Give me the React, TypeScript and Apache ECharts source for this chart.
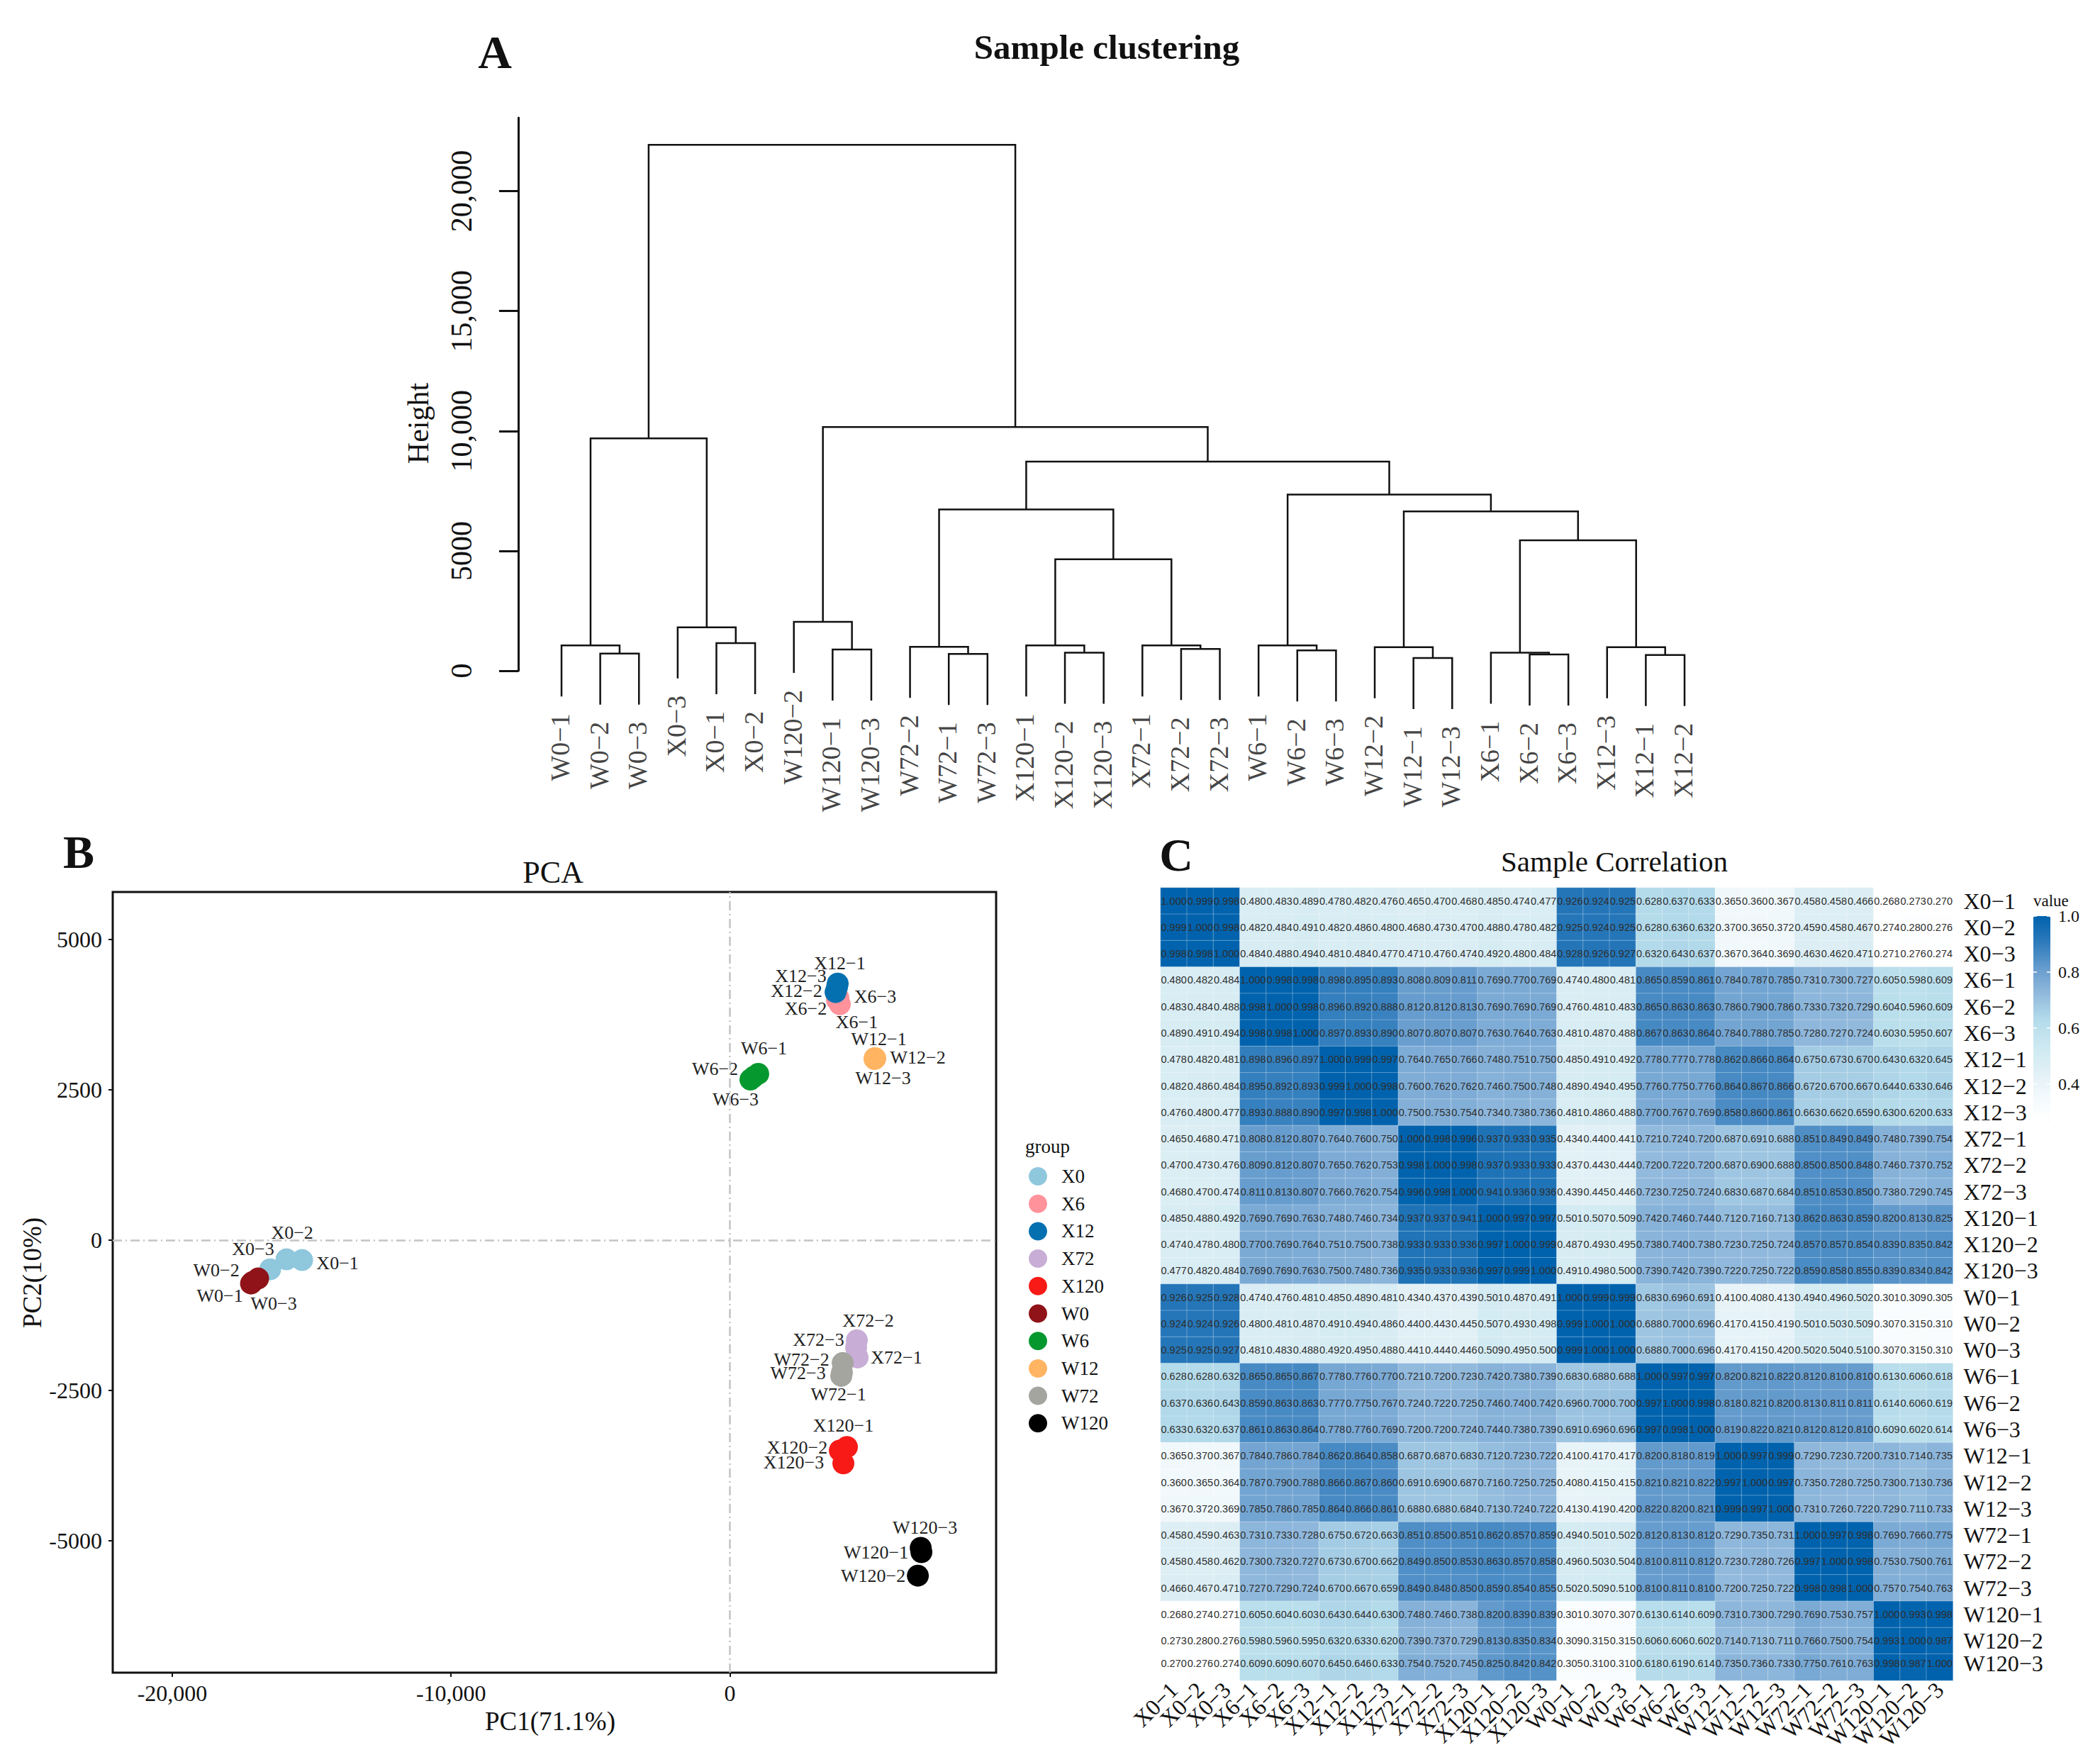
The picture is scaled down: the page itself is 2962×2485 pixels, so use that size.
import React, { useEffect, useRef } from "react";
import * as echarts from "echarts";

const SERIF = "Liberation Serif";
const SANS = "Liberation Sans";

// ---------- A: dendrogram ----------
const leafNames = ["W0−1","W0−2","W0−3","X0−3","X0−1","X0−2","W120−2","W120−1","W120−3","W72−2","W72−1","W72−3","X120−1","X120−2","X120−3","X72−1","X72−2","X72−3","W6−1","W6−2","W6−3","W12−2","W12−1","W12−3","X6−1","X6−2","X6−3","X12−3","X12−1","X12−2"];
// node ids: 0-29 are leaves, 30+ are the merges in this list, in order
const mergeLeft = [1,0,4,3,31,7,6,10,9,13,12,16,15,40,38,19,18,22,21,25,24,28,27,50,48,46,44,36,34];
const mergeRight = [2,30,5,32,33,8,35,11,37,14,39,17,41,42,43,20,45,23,47,26,49,29,51,52,53,54,55,56,57];
const mergeHeight = [718,1058,1152,1813,9688,888,2040,699,1000,755,1058,906,1058,4646,6723,850,1058,529,982,680,755,661,982,5439,6648,7347,8725,10160,21926];
const leafHang = 2129;
const heightTicks = [0,5000,10000,15000,20000];

// ---------- B: PCA ----------
const groupNames = ["X0","X6","X12","X72","X120","W0","W6","W12","W72","W120"];
const groupColors = ["#8fc7dd","#ff929a","#0570b0","#c8add6","#f71a16","#8f1318","#05982f","#ffb462","#a3a59e","#000000"];
const pcaX0 = [[-15344,-331],[-15903,-319],[-16489,-485]];
const pcaX6 = [[3944,3924],[3842,3995],[3893,4030]];
const pcaX12 = [[3868,4267],[3791,4125],[3842,4207]];
const pcaX72 = [[4580,-1950],[4555,-1666],[4529,-1785]];
const pcaX120 = [[4198,-3439],[3944,-3499],[4071,-3712]];
const pcaW0 = [[-17176,-721],[-16921,-638],[-17125,-697]];
const pcaW6 = [[1018,2766],[865,2718],[738,2671]];
const pcaW12 = [[5191,3025],[5216,3025],[5191,3013]];
const pcaW72 = [[3995,-2257],[4046,-2044],[4020,-2198]];
const pcaW120 = [[6870,-5189],[6743,-5579],[6845,-5118]];
const pcaPoints = [pcaX0,pcaX6,pcaX12,pcaX72,pcaX120,pcaW0,pcaW6,pcaW12,pcaW72,pcaW120];
// where ggrepel put each sample's label, relative to its point
const labelShift = [
  [[50,4],[8,-38],[-24,-29]],
  [[24,25],[-44,12],[52,-2]],
  [[3,-29],[-55,-2],[-51,-16]],
  [[55,0],[16,-28],[-53,-11]],
  [[-5,-30],[-60,-4],[-70,-1]],
  [[-44,17],[-59,-12],[30,30]],
  [[8,-36],[-55,-11],[-21,28]],
  [[6,-27],[60,-1],[12,27]],
  [[-4,26],[-58,-5],[-62,1]],
  [[-64,0],[-63,0],[6,-29]],
];
const pcaXTicks = [-20000,-10000,0];
const pcaYTicks = [-5000,-2500,0,2500,5000];

// ---------- C: correlation ----------
const sampleNames = ["X0−1","X0−2","X0−3","X6−1","X6−2","X6−3","X12−1","X12−2","X12−3","X72−1","X72−2","X72−3","X120−1","X120−2","X120−3","W0−1","W0−2","W0−3","W6−1","W6−2","W6−3","W12−1","W12−2","W12−3","W72−1","W72−2","W72−3","W120−1","W120−2","W120−3"];
const corrRows = [
[1.000,.999,.998,.480,.483,.489,.478,.482,.476,.465,.470,.468,.485,.474,.477,.926,.924,.925,.628,.637,.633,.365,.360,.367,.458,.458,.466,.268,.273,.270],
[.999,1.000,.998,.482,.484,.491,.482,.486,.480,.468,.473,.470,.488,.478,.482,.925,.924,.925,.628,.636,.632,.370,.365,.372,.459,.458,.467,.274,.280,.276],
[.998,.998,1.000,.484,.488,.494,.481,.484,.477,.471,.476,.474,.492,.480,.484,.928,.926,.927,.632,.643,.637,.367,.364,.369,.463,.462,.471,.271,.276,.274],
[.480,.482,.484,1.000,.998,.998,.898,.895,.893,.808,.809,.811,.769,.770,.769,.474,.480,.481,.865,.859,.861,.784,.787,.785,.731,.730,.727,.605,.598,.609],
[.483,.484,.488,.998,1.000,.998,.896,.892,.888,.812,.812,.813,.769,.769,.769,.476,.481,.483,.865,.863,.863,.786,.790,.786,.733,.732,.729,.604,.596,.609],
[.489,.491,.494,.998,.998,1.000,.897,.893,.890,.807,.807,.807,.763,.764,.763,.481,.487,.488,.867,.863,.864,.784,.788,.785,.728,.727,.724,.603,.595,.607],
[.478,.482,.481,.898,.896,.897,1.000,.999,.997,.764,.765,.766,.748,.751,.750,.485,.491,.492,.778,.777,.778,.862,.866,.864,.675,.673,.670,.643,.632,.645],
[.482,.486,.484,.895,.892,.893,.999,1.000,.998,.760,.762,.762,.746,.750,.748,.489,.494,.495,.776,.775,.776,.864,.867,.866,.672,.670,.667,.644,.633,.646],
[.476,.480,.477,.893,.888,.890,.997,.998,1.000,.750,.753,.754,.734,.738,.736,.481,.486,.488,.770,.767,.769,.858,.860,.861,.663,.662,.659,.630,.620,.633],
[.465,.468,.471,.808,.812,.807,.764,.760,.750,1.000,.998,.996,.937,.933,.935,.434,.440,.441,.721,.724,.720,.687,.691,.688,.851,.849,.849,.748,.739,.754],
[.470,.473,.476,.809,.812,.807,.765,.762,.753,.998,1.000,.998,.937,.933,.933,.437,.443,.444,.720,.722,.720,.687,.690,.688,.850,.850,.848,.746,.737,.752],
[.468,.470,.474,.811,.813,.807,.766,.762,.754,.996,.998,1.000,.941,.936,.936,.439,.445,.446,.723,.725,.724,.683,.687,.684,.851,.853,.850,.738,.729,.745],
[.485,.488,.492,.769,.769,.763,.748,.746,.734,.937,.937,.941,1.000,.997,.997,.501,.507,.509,.742,.746,.744,.712,.716,.713,.862,.863,.859,.820,.813,.825],
[.474,.478,.480,.770,.769,.764,.751,.750,.738,.933,.933,.936,.997,1.000,.999,.487,.493,.495,.738,.740,.738,.723,.725,.724,.857,.857,.854,.839,.835,.842],
[.477,.482,.484,.769,.769,.763,.750,.748,.736,.935,.933,.936,.997,.999,1.000,.491,.498,.500,.739,.742,.739,.722,.725,.722,.859,.858,.855,.839,.834,.842],
[.926,.925,.928,.474,.476,.481,.485,.489,.481,.434,.437,.439,.501,.487,.491,1.000,.999,.999,.683,.696,.691,.410,.408,.413,.494,.496,.502,.301,.309,.305],
[.924,.924,.926,.480,.481,.487,.491,.494,.486,.440,.443,.445,.507,.493,.498,.999,1.000,1.000,.688,.700,.696,.417,.415,.419,.501,.503,.509,.307,.315,.310],
[.925,.925,.927,.481,.483,.488,.492,.495,.488,.441,.444,.446,.509,.495,.500,.999,1.000,1.000,.688,.700,.696,.417,.415,.420,.502,.504,.510,.307,.315,.310],
[.628,.628,.632,.865,.865,.867,.778,.776,.770,.721,.720,.723,.742,.738,.739,.683,.688,.688,1.000,.997,.997,.820,.821,.822,.812,.810,.810,.613,.606,.618],
[.637,.636,.643,.859,.863,.863,.777,.775,.767,.724,.722,.725,.746,.740,.742,.696,.700,.700,.997,1.000,.998,.818,.821,.820,.813,.811,.811,.614,.606,.619],
[.633,.632,.637,.861,.863,.864,.778,.776,.769,.720,.720,.724,.744,.738,.739,.691,.696,.696,.997,.998,1.000,.819,.822,.821,.812,.812,.810,.609,.602,.614],
[.365,.370,.367,.784,.786,.784,.862,.864,.858,.687,.687,.683,.712,.723,.722,.410,.417,.417,.820,.818,.819,1.000,.997,.999,.729,.723,.720,.731,.714,.735],
[.360,.365,.364,.787,.790,.788,.866,.867,.860,.691,.690,.687,.716,.725,.725,.408,.415,.415,.821,.821,.822,.997,1.000,.997,.735,.728,.725,.730,.713,.736],
[.367,.372,.369,.785,.786,.785,.864,.866,.861,.688,.688,.684,.713,.724,.722,.413,.419,.420,.822,.820,.821,.999,.997,1.000,.731,.726,.722,.729,.711,.733],
[.458,.459,.463,.731,.733,.728,.675,.672,.663,.851,.850,.851,.862,.857,.859,.494,.501,.502,.812,.813,.812,.729,.735,.731,1.000,.997,.998,.769,.766,.775],
[.458,.458,.462,.730,.732,.727,.673,.670,.662,.849,.850,.853,.863,.857,.858,.496,.503,.504,.810,.811,.812,.723,.728,.726,.997,1.000,.998,.753,.750,.761],
[.466,.467,.471,.727,.729,.724,.670,.667,.659,.849,.848,.850,.859,.854,.855,.502,.509,.510,.810,.811,.810,.720,.725,.722,.998,.998,1.000,.757,.754,.763],
[.268,.274,.271,.605,.604,.603,.643,.644,.630,.748,.746,.738,.820,.839,.839,.301,.307,.307,.613,.614,.609,.731,.730,.729,.769,.753,.757,1.000,.993,.998],
[.273,.280,.276,.598,.596,.595,.632,.633,.620,.739,.737,.729,.813,.835,.834,.309,.315,.315,.606,.606,.602,.714,.713,.711,.766,.750,.754,.993,1.000,.987],
[.270,.276,.274,.609,.609,.607,.645,.646,.633,.754,.752,.745,.825,.842,.842,.305,.310,.310,.618,.619,.614,.735,.736,.733,.775,.761,.763,.998,.987,1.000],
];
const corrColors = ["#ffffff","#f2f9fc","#dfeff5","#cbe8f1","#b2daea","#90b8dc","#649bcd","#2c7abb","#0062ad"];
const colorbarTicks = ["1.0","0.8","0.6","0.4"];

function buildOption() {
  // dendrogram geometry from the merge list
  const nodeX: number[] = leafNames.map((_, i) => i);
  const nodeH: number[] = leafNames.map(() => NaN);
  const parentH: number[] = leafNames.map(() => 0);
  const links: number[][] = [];
  mergeHeight.forEach((h, m) => {
    const a = mergeLeft[m], b = mergeRight[m];
    parentH[a] = h; parentH[b] = h;
    nodeX.push((nodeX[a] + nodeX[b]) / 2);
    nodeH.push(h);
  });
  mergeHeight.forEach((h, m) => {
    const a = mergeLeft[m], b = mergeRight[m];
    const ya = a < leafNames.length ? h - leafHang : nodeH[a];
    const yb = b < leafNames.length ? h - leafHang : nodeH[b];
    links.push([nodeX[a], ya, nodeX[b], yb, h]);
  });
  const leafData = leafNames.map((name, i) => ({ name, value: [i, parentH[i] - leafHang] }));

  const heatData: any[] = [];
  corrRows.forEach((row, r) =>
    row.forEach((v, c) => {
      const item: any = { value: [c, r, v] };
      if (r === corrRows.length - 1) item.label = { offset: [0, -5] };
      heatData.push(item);
    })
  );

  const pcaSeries = groupNames.map((g, gi) => ({
    name: g,
    type: "scatter",
    xAxisIndex: 1,
    yAxisIndex: 1,
    symbolSize: 31,
    itemStyle: { color: groupColors[gi], opacity: 1 },
    data: pcaPoints[gi].map((p, i) => ({
      name: `${g}−${i + 1}`,
      value: p,
      label: {
        show: true,
        formatter: `${g}−${i + 1}`,
        position: "inside",
        offset: labelShift[gi][i],
        fontFamily: SERIF,
        fontSize: 26,
        color: "#222",
      },
    })),
    ...(gi === 0
      ? {
          markLine: {
            silent: true,
            symbol: "none",
            animation: false,
            label: { show: false },
            lineStyle: { color: "#c4c4c4", width: 2.5, type: [13, 5, 2, 5] },
            data: [{ xAxis: 0 }, { yAxis: 0 }],
          },
        }
      : {}),
  }));

  const txt = (text: string, x: number, y: number, size: number, opts: any = {}) => ({
    type: "text",
    x,
    y,
    rotation: opts.rotation || 0,
    silent: true,
    style: {
      text,
      fontFamily: SERIF,
      fontSize: size,
      fontWeight: opts.bold ? "bold" : "normal",
      fill: opts.fill || "#111",
      align: opts.align || "center",
      verticalAlign: "middle",
    },
  });

  const graphicEls: any[] = [
    txt("A", 698, 73, 66, { bold: true }),
    txt("B", 111, 1201, 66, { bold: true }),
    txt("C", 1659, 1205, 66, { bold: true }),
    txt("Sample clustering", 1561, 66, 49, { bold: true }),
    txt("Height", 590, 597, 42, { rotation: Math.PI / 2 }),
    txt("PCA", 780, 1230, 44),
    txt("Sample Correlation", 2277, 1215, 41),
    txt("PC1(71.1%)", 776, 2427, 37),
    txt("PC2(10%)", 45, 1795, 37, { rotation: Math.PI / 2 }),
    txt("group", 1446, 1617, 27, { align: "left" }),
    txt("value", 2868, 1270, 23, { align: "left" }),
  ];
  colorbarTicks.forEach((t, i) => {
    const y = 1292 + i * 79;
    graphicEls.push(txt(t, 2903, y, 24, { align: "left" }));
    graphicEls.push({ type: "line", silent: true, z: 100, shape: { x1: 2868, y1: y, x2: 2873, y2: y }, style: { stroke: "#fff", lineWidth: 1.5 } });
    graphicEls.push({ type: "line", silent: true, z: 100, shape: { x1: 2887, y1: y, x2: 2892, y2: y }, style: { stroke: "#fff", lineWidth: 1.5 } });
  });

  return {
    animation: false,
    backgroundColor: "#fff",
    textStyle: { fontFamily: SERIF },
    grid: [
      { left: 792, top: 166, width: 1584, height: 780 },
      { left: 159, top: 1258, width: 1246, height: 1101, show: true, borderColor: "#111", borderWidth: 3, backgroundColor: "#fff" },
      { left: 1637, top: 1252, width: 1117.5, height: 1118 },
    ],
    xAxis: [
      { gridIndex: 0, type: "value", min: 0, max: 29, show: false },
      {
        gridIndex: 1, type: "value", min: -22136, max: 9550,
        axisLine: { show: false, onZero: false },
        axisTick: { show: true, customValues: pcaXTicks, length: 6, lineStyle: { color: "#111", width: 2 } },
        axisLabel: { customValues: pcaXTicks, margin: 13, fontSize: 32, fontFamily: SERIF, color: "#111", formatter: (v: number) => v.toLocaleString("en-US") },
        splitLine: { show: false },
      },
      {
        gridIndex: 2, type: "category", data: sampleNames, position: "bottom",
        axisLine: { show: false }, axisTick: { show: false }, splitLine: { show: false },
        axisLabel: { interval: 0, rotate: 45, margin: 8, fontSize: 32, fontFamily: SERIF, color: "#111" },
      },
    ],
    yAxis: [
      {
        gridIndex: 0, type: "value", min: 0, max: 23060, position: "left", offset: 61,
        axisLine: { show: true, onZero: false, lineStyle: { color: "#111", width: 3 } },
        axisTick: { show: true, customValues: heightTicks, length: 27, lineStyle: { color: "#111", width: 3 } },
        axisLabel: {
          customValues: heightTicks, rotate: 90, margin: 59, fontSize: 42, fontFamily: SERIF, color: "#111",
          formatter: (v: number) => (v < 10000 ? String(v) : v.toLocaleString("en-US")),
        },
        splitLine: { show: false },
      },
      {
        gridIndex: 1, type: "value", min: -7193, max: 5790,
        axisLine: { show: false, onZero: false },
        axisTick: { show: true, customValues: pcaYTicks, length: 6, lineStyle: { color: "#111", width: 2 } },
        axisLabel: { customValues: pcaYTicks, margin: 15, fontSize: 32, fontFamily: SERIF, color: "#111", formatter: (v: number) => String(v) },
        splitLine: { show: false },
      },
      {
        gridIndex: 2, type: "category", data: sampleNames, inverse: true, position: "right",
        axisLine: { show: false }, axisTick: { show: false }, splitLine: { show: false },
        axisLabel: {
          interval: 0, margin: 15, fontSize: 32, fontFamily: SERIF, color: "#111",
          formatter: (v: string) => (v === sampleNames[sampleNames.length - 1] ? `{s|${v}}` : v),
          rich: { s: { fontSize: 32, fontFamily: SERIF, color: "#111", padding: [0, 0, 10, 0] } },
        },
      },
    ],
    visualMap: {
      type: "continuous",
      seriesIndex: 2,
      dimension: 2,
      min: 0.268,
      max: 1,
      left: 2868,
      top: 1292,
      padding: 0,
      itemWidth: 24,
      itemHeight: 289,
      calculable: false,
      hoverLink: false,
      text: ["", ""],
      inRange: { color: corrColors },
    },
    legend: {
      data: groupNames,
      orient: "vertical",
      left: 1451,
      top: 1645.5,
      padding: 0,
      icon: "circle",
      itemWidth: 26,
      itemHeight: 26,
      itemGap: 11.7,
      selectedMode: false,
      textStyle: { fontFamily: SERIF, fontSize: 27, color: "#111", padding: [0, 0, 0, 15] },
    },
    series: [
      {
        type: "custom",
        xAxisIndex: 0,
        yAxisIndex: 0,
        clip: false,
        data: links,
        silent: true,
        renderItem: (_: any, api: any) => {
          const p1 = api.coord([api.value(0), api.value(1)]);
          const p2 = api.coord([api.value(0), api.value(4)]);
          const p3 = api.coord([api.value(2), api.value(4)]);
          const p4 = api.coord([api.value(2), api.value(3)]);
          return {
            type: "polyline",
            shape: { points: [p1, p2, p3, p4] },
            style: { stroke: "#111", lineWidth: 2.5, fill: "none" },
          };
        },
      },
      {
        type: "scatter",
        xAxisIndex: 0,
        yAxisIndex: 0,
        clip: false,
        symbolSize: 0,
        silent: true,
        data: leafData,
        label: {
          show: true,
          formatter: "{b}",
          position: "inside",
          offset: [-24, -2],
          rotate: 90,
          align: "right",
          verticalAlign: "middle",
          fontFamily: SERIF,
          fontSize: 38,
          color: "#111",
        },
      },
      {
        type: "heatmap",
        xAxisIndex: 2,
        yAxisIndex: 2,
        data: heatData,
        silent: true,
        itemStyle: { borderColor: "rgba(255,255,255,0.3)", borderWidth: 1 },
        label: {
          show: true,
          fontFamily: SANS,
          fontSize: 14.5,
          color: "#2e2e2e",
          formatter: (p: any) => p.value[2].toFixed(3),
        },
      },
      ...pcaSeries,
    ],
    graphic: { elements: graphicEls },
  };
}

export default function App() {
  const ref = useRef<HTMLDivElement | null>(null);
  useEffect(() => {
    if (!ref.current) return;
    const chart = echarts.init(ref.current, undefined, { renderer: "svg" });
    chart.setOption(buildOption() as any);
    return () => chart.dispose();
  }, []);
  return <div ref={ref} style={{ position: "absolute", left: 0, top: 0, width: 2962, height: 2485 }} />;
}
